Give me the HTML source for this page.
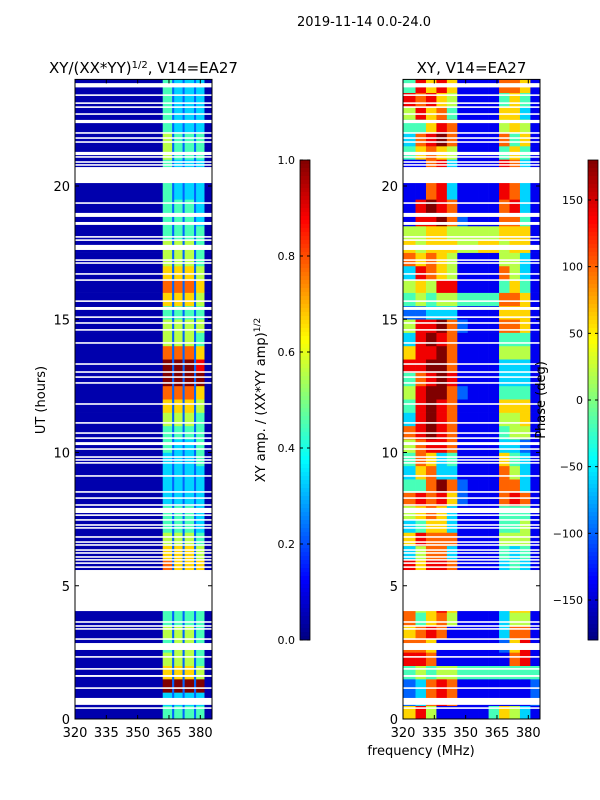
<!DOCTYPE html>
<html><head><meta charset="utf-8"><style>
body{margin:0;background:#fff;width:600px;height:800px;overflow:hidden}
svg{display:block;font-family:"DejaVu Sans","Liberation Sans",sans-serif}
</style></head><body>
<svg id="fig" width="600" height="800" xmlns="http://www.w3.org/2000/svg"></svg>
<script>
// ---- data ----
const leftFreqEdges = [320,362,366.5,367.5,371.5,372.5,377,378,382,385.6];
const rightFreqEdges = [320,326,331,336,341,346,351,356,361,366,371,376,381,385.6];
// amplitude rows, every 0.5 h from 0 to 24 (digit d -> d/9)
const ampRows = [
"042424240","032323230","092929290","062626250","052525240","042525240","052525240","042424240",
"042424240","042424240","042424240","072626260","062626250","052525240","042424230","042424230",
"032323230","032323230","032323230","032323240","042323240","042424240","052525240","062626250",
"072727260","092929290","092929280","072727260","052525240","052525250","042424240","062626250",
"072727260","062626250","052525240","052525240","042424240","042424230","042424230","042323230",
"042323230","042323230","052424240","052424240","042323230","042323230","042323230","042323230"];
// phase rows, every 0.5 h (digit d -> -180 + d*40 deg)
const phaseRows = [
"6851111146531","2378711111112","2378711111112","4545544444444","8871111111781","7761111112681","6787111113771","7467511113551",
"7568611113661","7568611113661","7568611113661","8688711113431","3577311114341","6877711115551","3466311114451","5676311114441",
"7878621117871","4479721117731","3673311117531","4763411116431","5788711113321","7898711114551","3898711115561","4898711116661",
"5899721114441","4789811113331","8899711113331","6889711115551","3898711114441","5889721117761","2233311116661","4545544447761",
"5658811114641","3876511117531","7676511115531","6566655665661","5566555556661","1889721117741","1898711117831","1178311118731",
"1178311118731","1178311118731","4676511114641","3789711117461","4468711115651","5867411116631","8786511114641","4868611117761"];
// flagged intervals in hours [start,end]
const flagged = [[23.7,23.86],[23.38,23.44],[23.08,23.14],[22.93,22.99],[22.67,22.73],[22.36,22.48],[21.96,22.02],[21.77,21.83],[21.62,21.68],[21.16,21.28],[21.06,21.12],[20.87,20.93],[20.76,20.82],[20.11,20.71],
[19.33,19.39],[18.84,18.99],[18.54,18.65],[18.06,18.12],[17.94,18.0],[17.6,17.79],[17.19,17.25],[17.08,17.14],[16.67,16.73],[16.44,16.5],[15.65,15.71],[15.35,15.46],[15.05,15.11],[14.83,14.89],[14.57,14.63],[14.08,14.14],
[13.29,13.35],[12.99,13.05],[12.8,12.86],[12.58,12.64],[11.79,11.85],[11.08,11.14],[10.7,10.76],[10.51,10.57],[10.28,10.39],[10.1,10.16],[9.8,9.86],[9.69,9.75],[9.58,9.64],[9.09,9.15],[8.49,8.55],[8.26,8.32],[8.0,8.06],
[7.73,7.92],[7.62,7.68],[7.44,7.5],[7.25,7.31],[7.14,7.2],[6.8,6.86],[6.61,6.67],[6.5,6.56],[6.31,6.37],[6.2,6.26],[6.05,6.11],[5.94,6.0],[5.82,5.88],[5.67,5.73],[4.05,5.59],
[3.61,3.67],[3.46,3.52],[3.35,3.41],[2.97,3.03],[2.59,2.85],[2.3,2.36],[1.85,1.91],[1.58,1.65],[1.13,1.19],[0.53,0.79],[0.38,0.44]];
const xTicks = [320,335,350,365,380];
const yTicks = [0,5,10,15,20];
const ampTicks = [0.0,0.2,0.4,0.6,0.8,1.0];
const phaseTicks = [-150,-100,-50,0,50,100,150];

// ---- layout ----
const NS="http://www.w3.org/2000/svg";
const svg=document.getElementById('fig');
function el(tag,attrs,parent){const e=document.createElementNS(NS,tag);for(const k in attrs)e.setAttribute(k,attrs[k]);(parent||svg).appendChild(e);return e;}
function jet(t){t=Math.max(0,Math.min(1,t));const c=v=>Math.round(255*Math.max(0,Math.min(1,v)));
  return `rgb(${c(1.5-Math.abs(4*t-3))},${c(1.5-Math.abs(4*t-2))},${c(1.5-Math.abs(4*t-1))})`;}
const yTop=79.4,yBot=719;
const yS=h=>yBot-(h/24)*(yBot-yTop);
function panel(x0,x1,name,title,edges,rows,toT){
  const xS=f=>x0+(f-320)/(385.6-320)*(x1-x0);
  const g=el('g',{});
  
  
  rows.forEach((row,r)=>{
    for(let c=0;c<edges.length-1;c++){
      const d=+row[c];
      const rc=el('rect',{x:xS(edges[c]),y:yS(r*0.5+0.5),width:xS(edges[c+1])-xS(edges[c])+0.3,height:yS(r*0.5)-yS(r*0.5+0.5)+0.3,fill:jet(toT(d))},g);
      
      
    }
  });
  flagged.forEach(f=>{
    const fr=el('rect',{x:x0,y:yS(f[1]),width:x1-x0,height:Math.max(1.2,yS(f[0])-yS(f[1])),fill:'#fff'},g);
    
    
  });
  el('rect',{x:x0,y:yTop,width:x1-x0,height:yBot-yTop,fill:'none',stroke:'#000','stroke-width':1},g);
  xTicks.forEach(t=>{const x=xS(t);
    el('line',{x1:x,x2:x,y1:yBot,y2:yBot-4,stroke:'#000'},g);
    el('line',{x1:x,x2:x,y1:yTop,y2:yTop+4,stroke:'#000'},g);
    const tx=el('text',{x:x,y:yBot+18,'text-anchor':'middle','font-size':13},g);tx.textContent=t;
    
    });
  yTicks.forEach(t=>{const y=yS(t);
    el('line',{x1:x0,x2:x0+4,y1:y,y2:y,stroke:'#000'},g);
    el('line',{x1:x1,x2:x1-4,y1:y,y2:y,stroke:'#000'},g);
    const tx=el('text',{x:x0-5,y:y+5,'text-anchor':'end','font-size':13},g);tx.textContent=t;
    
    });
  const tt=el('text',{x:(x0+x1)/2,y:73,'text-anchor':'middle','font-size':15},g);tt.innerHTML=title;
  
  
}
panel(75,212,'amplitude-panel','XY/(XX*YY)<tspan baseline-shift="super" font-size="10">1/2</tspan>, V14=EA27',leftFreqEdges,ampRows,d=>d===0?0.045:d/9);
panel(403,540,'phase-panel','XY, V14=EA27',rightFreqEdges,phaseRows,d=>d/9);

function colorbar(x,name,ticks,vmin,vmax){
  const g=el('g',{});
  
  
  for(let i=0;i<120;i++){
    el('rect',{x:x,y:160+i*4,width:10,height:4.3,fill:jet(1-(i+0.5)/120)},g);
  }
  el('rect',{x:x,y:160,width:10,height:480,fill:'none',stroke:'#000','stroke-width':0.8},g);
  ticks.forEach(t=>{const y=640-(t-vmin)/(vmax-vmin)*480;
    el('line',{x1:x,x2:x+3,y1:y,y2:y,stroke:'#000'},g);
    el('line',{x1:x+10,x2:x+7,y1:y,y2:y,stroke:'#000'},g);
    const tx=el('text',{x:x-5,y:y+4,'text-anchor':'end','font-size':11},g);
    tx.textContent=(vmax===1?t.toFixed(1):String(t).replace('-','\u2212'));
    
    });
}
colorbar(300,'amplitude-colorbar',ampTicks,0,1);
colorbar(588,'phase-colorbar',phaseTicks,-180,180);

function text(x,y,s,size,name,rot){const t=el('text',{x:x,y:y,'text-anchor':'middle','font-size':size});
  if(rot)t.setAttribute('transform',`rotate(-90 ${x} ${y})`);t.innerHTML=s;
  
  }
text(364,26,'2019-11-14 0.0-24.0',13,'figure-title');
text(421,755,'frequency (MHz)',13,'x-axis-title');
text(45,400,'UT (hours)',13,'y-axis-title',true);
text(265,400,'XY amp. / (XX*YY amp)<tspan baseline-shift="super" font-size="9">1/2</tspan>',13,'amplitude-colorbar-label',true);
text(545,400,'Phase (deg)',13,'phase-colorbar-label',true);
</script>
</body></html>
